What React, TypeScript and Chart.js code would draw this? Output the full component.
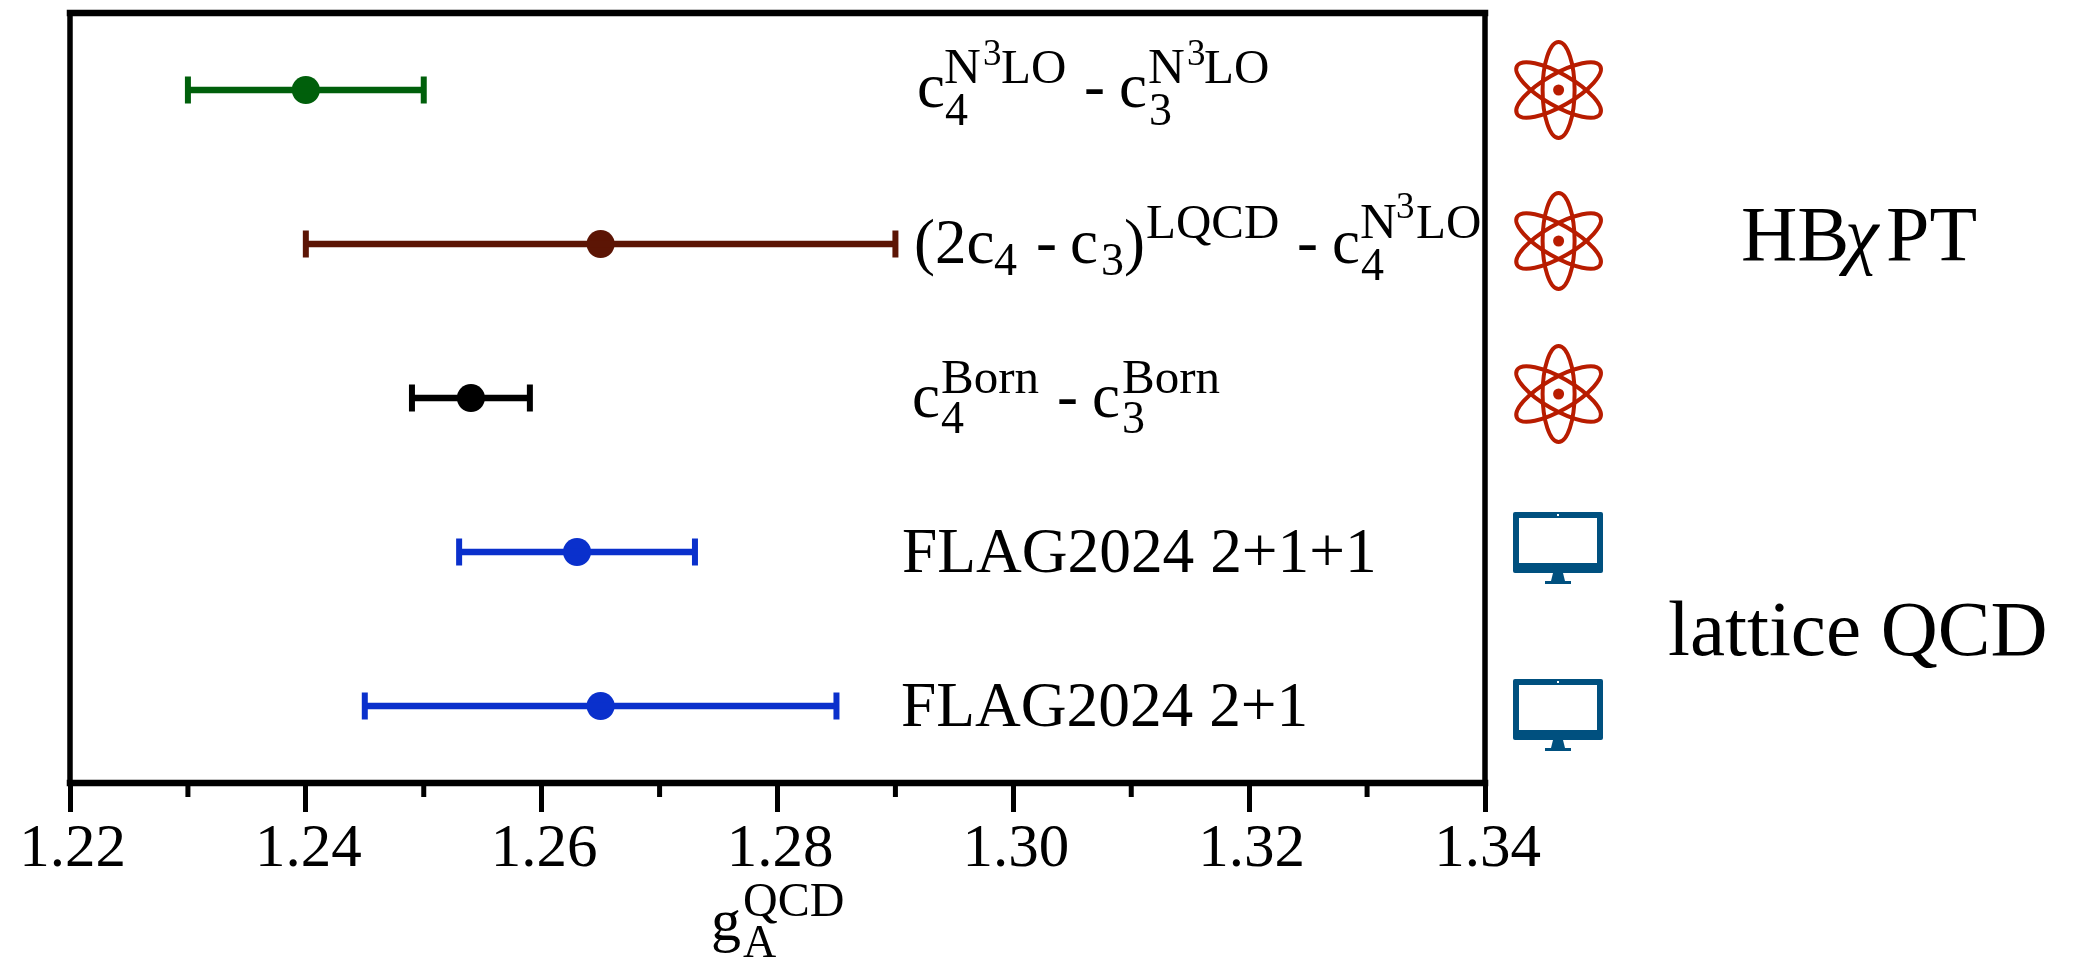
import React, { useEffect, useRef } from "react";
import { Chart, registerables } from "chart.js";

Chart.register(...registerables);

const categories = [
  "c4 N3LO - c3 N3LO",
  "(2c4 - c3) LQCD - c4 N3LO",
  "c4 Born - c3 Born",
  "FLAG2024 2+1+1",
  "FLAG2024 2+1",
];
const centers = [1.24, 1.265, 1.254, 1.263, 1.265];
const lows = [1.23, 1.24, 1.249, 1.253, 1.245];
const highs = [1.25, 1.29, 1.259, 1.273, 1.285];
const colors = ["#005f0b", "#5c1505", "#000000", "#0a30cc", "#0a30cc"];
const minorTicks = [1.23, 1.25, 1.27, 1.29, 1.31, 1.33];

const SERIF = '"Liberation Serif", serif';
type Run = [string, number, number, number, boolean?];

// [text, x, baseline, font size, italic]
const textRuns: Run[] = [
  ["c", 917, 107, 63], ["N", 944, 83, 51], ["3", 983, 65, 37], ["LO", 1001, 83, 49], ["4", 945, 125, 46],
  ["-", 1084, 107, 63], ["c", 1119, 107, 63], ["N", 1148, 83, 51], ["3", 1187, 65, 37], ["LO", 1204, 83, 49], ["3", 1149, 125, 46],

  ["(2c", 914, 263, 63], ["4", 994, 275, 46], ["-", 1036, 263, 63], ["c", 1070, 263, 63], ["3", 1101, 275, 46],
  [")", 1124, 263, 63], ["LQCD", 1146, 238, 49], ["-", 1297, 263, 63], ["c", 1332, 263, 63], ["N", 1360, 238, 51],
  ["3", 1396, 218, 37], ["LO", 1416, 238, 49], ["4", 1361, 280, 46],

  ["c", 912, 417, 63], ["Born", 941, 393, 49], ["4", 941, 433, 46], ["-", 1057, 417, 63], ["c", 1092, 417, 63],
  ["Born", 1122, 393, 49], ["3", 1122, 433, 46],

  ["FLAG2024 2+1+1", 902, 572, 63.4],
  ["FLAG2024 2+1", 901, 726, 63.4],

  ["HB", 1741, 260, 78], ["\u03C7", 1845, 260, 76, true], ["PT", 1886, 260, 78],
  ["lattice QCD", 1668, 655, 79],

  ["g", 711, 940, 60], ["QCD", 743, 916, 48], ["A", 743, 957, 46],
];

const atomCenters = [[1558.6, 90], [1558.6, 241], [1558.6, 394]];
const monitorTops = [512, 679];

const decorations = {
  id: "decorations",
  afterDatasetsDraw(chart: any) {
    const { ctx, chartArea: a, scales } = chart;
    ctx.save();

    // frame
    ctx.strokeStyle = "#000";
    ctx.lineCap = "square";
    ctx.lineWidth = 6.5;
    ctx.beginPath();
    ctx.moveTo(a.left, a.top); ctx.lineTo(a.right, a.top);
    ctx.moveTo(a.left, a.bottom); ctx.lineTo(a.right, a.bottom);
    ctx.stroke();
    ctx.lineWidth = 5.5;
    ctx.lineCap = "butt";
    ctx.beginPath();
    ctx.moveTo(a.left, a.top); ctx.lineTo(a.left, a.bottom);
    ctx.moveTo(a.right, a.top); ctx.lineTo(a.right, a.bottom);
    ctx.stroke();

    // minor ticks
    ctx.lineWidth = 5;
    ctx.beginPath();
    for (const v of minorTicks) {
      const x = scales.x.getPixelForValue(v);
      ctx.moveTo(x, a.bottom);
      ctx.lineTo(x, a.bottom + 14);
    }
    ctx.stroke();

    // text
    ctx.fillStyle = "#000";
    ctx.textAlign = "left";
    ctx.textBaseline = "alphabetic";
    for (const [t, x, y, size, italic] of textRuns) {
      ctx.font = `${italic ? "italic " : ""}${size}px ${SERIF}`;
      ctx.fillText(t, x, y);
    }

    // atoms
    for (const [cx, cy] of atomCenters) {
      ctx.strokeStyle = "#b81c00";
      ctx.fillStyle = "#b81c00";
      ctx.lineWidth = 4;
      for (const rot of [0, Math.PI / 3, -Math.PI / 3]) {
        ctx.beginPath();
        ctx.ellipse(cx, cy, 16, 48, rot, 0, Math.PI * 2);
        ctx.stroke();
      }
      ctx.beginPath();
      ctx.arc(cx, cy, 5.5, 0, Math.PI * 2);
      ctx.fill();
    }

    // monitors
    for (const top of monitorTops) {
      const l = 1513, w = 90;
      ctx.fillStyle = "#00507f";
      ctx.beginPath();
      ctx.roundRect(l, top, w, 61, 2);
      ctx.fill();
      ctx.fillStyle = "#fff";
      ctx.fillRect(l + 6, top + 6, w - 12, 45);
      ctx.fillRect(l + 44, top + 2, 2, 2);
      ctx.fillStyle = "#00507f";
      ctx.beginPath();
      ctx.moveTo(l + 40, top + 61);
      ctx.lineTo(l + 50, top + 61);
      ctx.lineTo(l + 52, top + 69);
      ctx.lineTo(l + 58, top + 69);
      ctx.lineTo(l + 58, top + 72);
      ctx.lineTo(l + 32, top + 72);
      ctx.lineTo(l + 32, top + 69);
      ctx.lineTo(l + 38, top + 69);
      ctx.closePath();
      ctx.fill();
    }
    ctx.restore();
  },
};

export default function App() {
  const ref = useRef<HTMLCanvasElement>(null);
  useEffect(() => {
    const bars = categories.map((c, i) => ({
      type: "line" as const,
      data: [{ x: lows[i], y: c }, { x: highs[i], y: c }],
      borderColor: colors[i],
      borderWidth: 6.5,
      pointStyle: "line",
      pointRotation: 90,
      pointRadius: 13.5,
      pointBorderWidth: 6,
      pointBorderColor: colors[i],
      pointBackgroundColor: colors[i],
      clip: false,
    }));
    const dots = categories.map((c, i) => ({
      type: "line" as const,
      data: [{ x: centers[i], y: c }],
      showLine: false,
      pointStyle: "circle",
      pointRadius: 14,
      pointBorderWidth: 0,
      pointBackgroundColor: colors[i],
      pointBorderColor: colors[i],
      clip: false,
    }));
    const chart = new Chart(ref.current!, {
      type: "line",
      data: { labels: categories, datasets: [...bars, ...dots] as any },
      plugins: [decorations],
      options: {
        responsive: false,
        animation: false,
        events: [],
        layout: { autoPadding: false, padding: { left: 70, right: 590, top: 13, bottom: 0 } },
        plugins: { legend: { display: false }, tooltip: { enabled: false }, title: { display: false } },
        scales: {
          x: {
            type: "linear",
            min: 1.22,
            max: 1.34,
            position: "bottom",
            afterFit(scale: any) { scale.height = 175; },
            border: { display: false },
            grid: { drawOnChartArea: false, drawTicks: true, tickLength: 29, tickWidth: 5, tickColor: "#000" },
            ticks: {
              stepSize: 0.02,
              autoSkip: false,
              maxRotation: 0,
              minRotation: 0,
              padding: 1,
              labelOffset: 2.5,
              color: "#000",
              font: { family: SERIF, size: 61 },
              callback: (v: any) => Number(v).toFixed(2),
            },
          },
          y: { type: "category", labels: categories, offset: true, display: false },
        },
      },
    } as any);
    return () => chart.destroy();
  }, []);
  return (
    <div style={{ position: "absolute", left: 0, top: 0, width: 2075, height: 958, background: "#fff" }}>
      <canvas ref={ref} width={2075} height={958} style={{ display: "block" }} />
    </div>
  );
}
